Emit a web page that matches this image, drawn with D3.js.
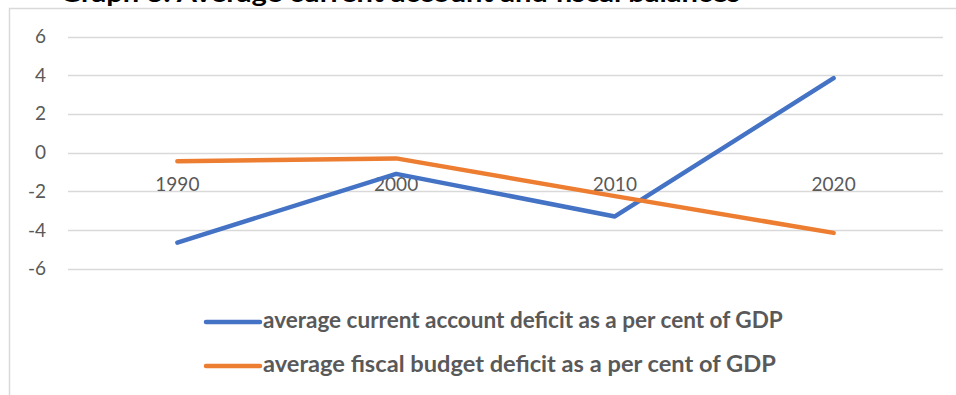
<!DOCTYPE html>
<html>
<head>
<meta charset="utf-8">
<script src="https://cdn.jsdelivr.net/npm/d3@7"></script>
<style>
  body { margin: 0; background: #fff; }
  svg { display: block; font-family: Lato, "Open Sans", sans-serif; }
</style>
</head>
<body>
<svg id="chart"></svg>
<script>
// canvas size
var width = 956,
    height = 395;

// chart data
var years = ["1990", "2000", "2010", "2020"];
var currentAccount = [-4.65, -1.1, -3.3, 3.85];
var fiscalBudget = [-0.45, -0.3, -2.25, -4.15];
var yTicks = [6, 4, 2, 0, -2, -4, -6];
var seriesNames = [
  "average current account deficit as a per cent of GDP",
  "average fiscal budget deficit as a per cent of GDP"
];
var seriesColors = ["#4472C4", "#ED7D31"];
var titleText = "Graph 3: Average current account and fiscal balances";

var svg = d3.select("#chart")
  .attr("width", width)
  .attr("height", height);

svg.append("rect")
  .attr("width", width).attr("height", height)
  .attr("fill", "#fff");

// title, mostly clipped off the top like in the source
svg.append("text")
  .attr("x", 60).attr("y", 2)
  .attr("textLength", 680)
  .attr("lengthAdjust", "spacingAndGlyphs")
  .style("font-size", "24px")
  .style("font-weight", "bold")
  .attr("fill", "#000")
  .text(titleText);

// chart area border
svg.append("rect")
  .attr("x", 9.5).attr("y", 8.5)
  .attr("width", 980).attr("height", 420)
  .attr("fill", "none")
  .attr("stroke", "#d9d9d9")
  .attr("stroke-width", 1.5);

var x = d3.scaleBand()
  .domain(years)
  .range([68, 943]);

var y = d3.scaleLinear()
  .domain([-6, 6])
  .range([268.7, 36.5]);

// gridlines
svg.append("g")
  .selectAll("line")
  .data(yTicks)
  .enter().append("line")
    .attr("x1", 68).attr("x2", 943)
    .attr("y1", function(d) { return Math.round(y(d)) + 0.5; })
    .attr("y2", function(d) { return Math.round(y(d)) + 0.5; })
    .attr("stroke", "#d9d9d9")
    .attr("stroke-width", 1.5);

// y axis labels (plain hyphen for minus, like Excel)
var yAxis = d3.axisLeft(y)
  .tickValues(yTicks)
  .tickFormat(function(d) { return String(d); })
  .tickSize(0)
  .tickPadding(0);

var ya = svg.append("g")
  .attr("transform", "translate(46,0)")
  .call(yAxis);
ya.select(".domain").remove();
ya.selectAll("text")
  .attr("fill", "#595959")
  .style("font-size", "19px")
  .style("font-family", "Lato, 'Open Sans', sans-serif");

// category labels sit just below the zero line
var xAxis = d3.axisBottom(x).tickSize(0).tickPadding(0);
var xa = svg.append("g")
  .attr("transform", "translate(0," + (y(0) + 38) + ")")
  .call(xAxis);
xa.select(".domain").remove();
xa.selectAll("text")
  .attr("fill", "#595959")
  .attr("dy", 0)
  .style("font-size", "19px")
  .style("font-family", "Lato, 'Open Sans', sans-serif");

// lines
var line = d3.line()
  .x(function(d, i) { return x(years[i]) + x.bandwidth() / 2; })
  .y(function(d) { return y(d); });

[currentAccount, fiscalBudget].forEach(function(vals, i) {
  svg.append("path")
    .datum(vals)
    .attr("d", line)
    .attr("fill", "none")
    .attr("stroke", seriesColors[i])
    .attr("stroke-width", 4.5)
    .attr("stroke-linecap", "round")
    .attr("stroke-linejoin", "round");
});

// legend
var legendY = [322, 366];
var legendWidths = [520, 513];
seriesNames.forEach(function(name, i) {
  svg.append("line")
    .attr("x1", 206).attr("x2", 260)
    .attr("y1", legendY[i]).attr("y2", legendY[i])
    .attr("stroke", seriesColors[i])
    .attr("stroke-width", 4.5)
    .attr("stroke-linecap", "round");
  var t = svg.append("text")
    .attr("x", 263).attr("y", legendY[i] + 6)
    .attr("fill", "#595959")
    .style("font-size", "19px")
    .style("font-weight", "bold")
    .text(name);
  // fit to the width seen in the source
  var w = t.node().getComputedTextLength();
  t.style("font-size", (19 * legendWidths[i] / w).toFixed(2) + "px");
});
</script>
</body>
</html>
